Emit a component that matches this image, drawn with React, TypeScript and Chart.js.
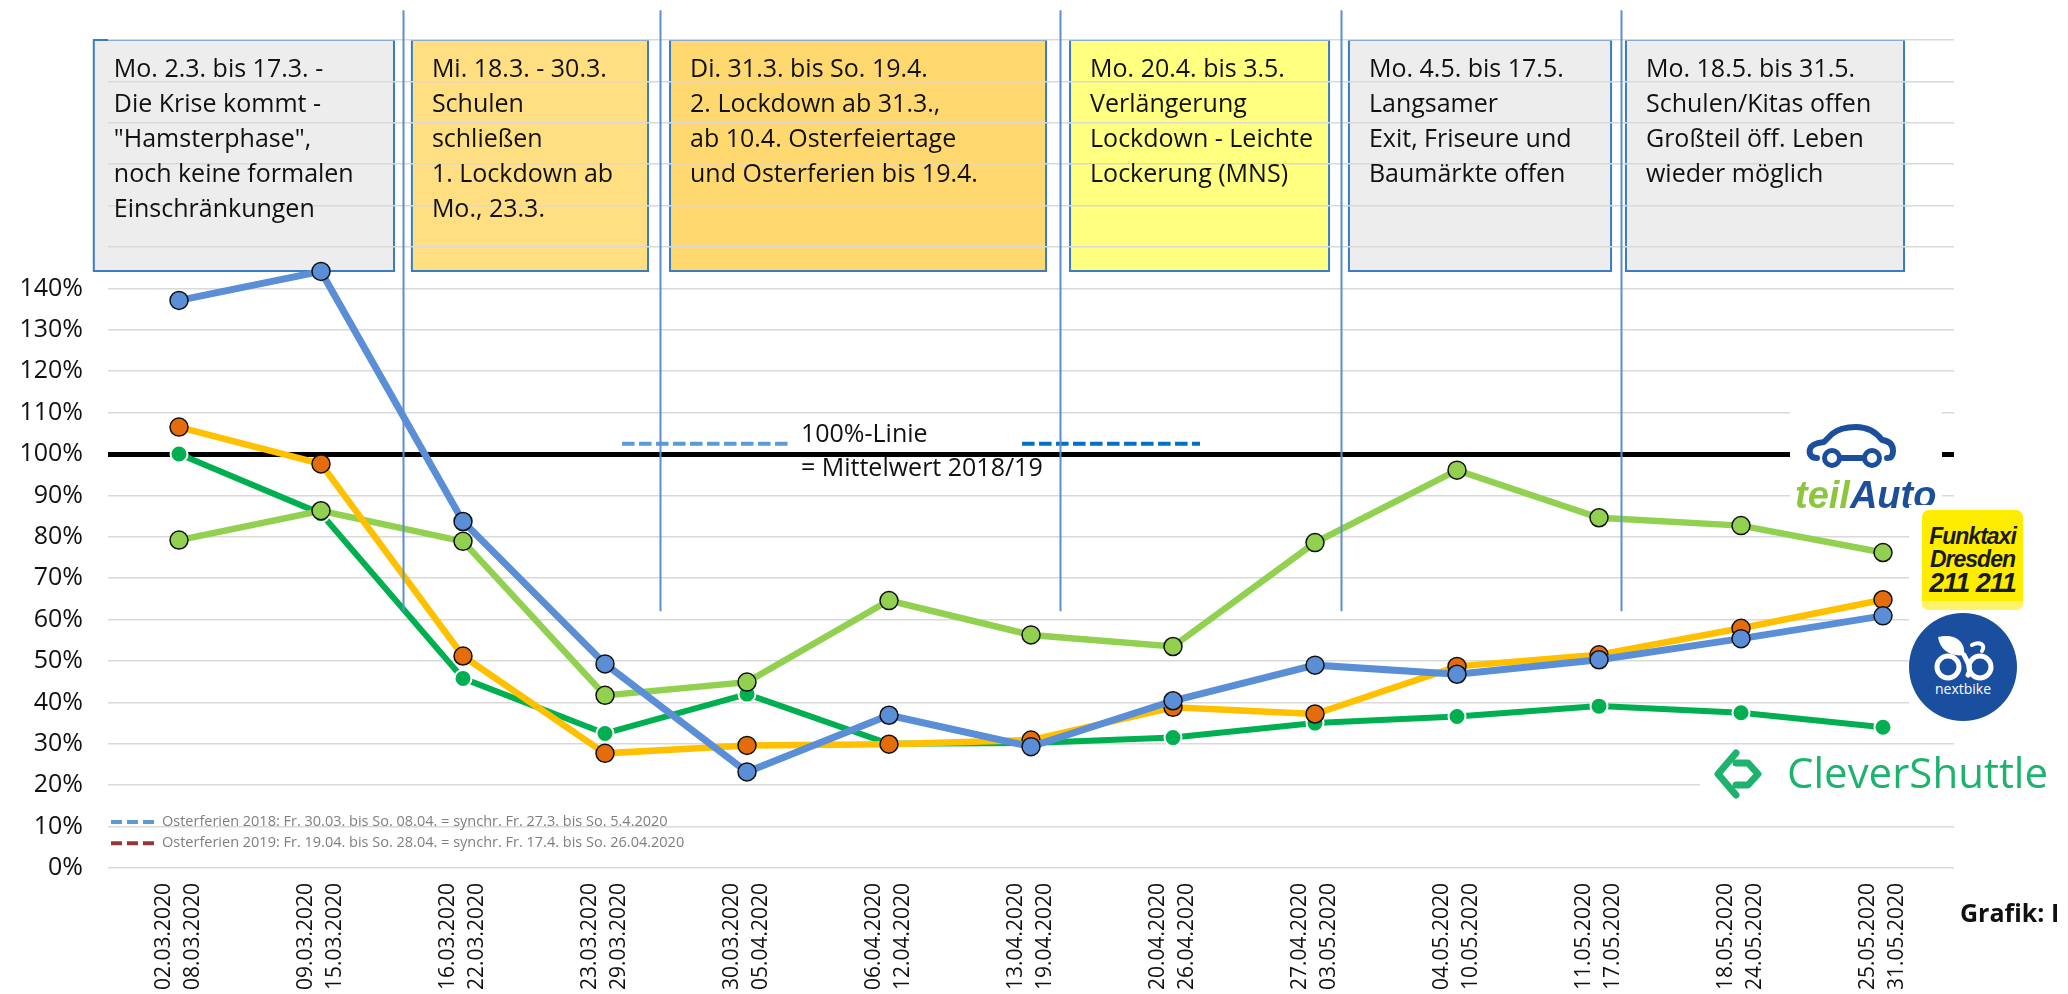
import React, { useEffect, useRef } from "react";
import { Chart, registerables } from "chart.js";
Chart.register(...registerables);

// ---------- data ----------
const weekStarts = ["02.03.2020", "09.03.2020", "16.03.2020", "23.03.2020", "30.03.2020", "06.04.2020", "13.04.2020", "20.04.2020", "27.04.2020", "04.05.2020", "11.05.2020", "18.05.2020", "25.05.2020"];
const weekEnds = ["08.03.2020", "15.03.2020", "22.03.2020", "29.03.2020", "05.04.2020", "12.04.2020", "19.04.2020", "26.04.2020", "03.05.2020", "10.05.2020", "17.05.2020", "24.05.2020", "31.05.2020"];

const nextbike = [137.1, 144.1, 83.7, 49.3, 23.2, 36.9, 29.3, 40.4, 49.0, 46.8, 50.3, 55.4, 60.9];
const funktaxi = [106.5, 97.6, 51.2, 27.7, 29.6, 29.9, 30.9, 38.8, 37.2, 48.7, 51.5, 57.9, 64.8];
const teilAuto = [79.2, 86.3, 78.9, 41.7, 44.9, 64.6, 56.3, 53.5, 78.6, 96.1, 84.6, 82.7, 76.2];
const cleverShuttle = [100, 85.6, 45.8, 32.5, 42.0, 30.0, 30.2, 31.5, 35.0, 36.6, 39.1, 37.5, 34.0];

const yMax = 200;
const yLabelMax = 140;

// annotation boxes (phases), in category-index units
const phaseFrom = [-0.6, 1.64, 3.458, 6.275, 8.239, 10.19];
const phaseTo = [1.514, 3.303, 6.106, 8.099, 10.085, 12.148];
const phaseFills = ["#EDEDED", "#FFDF82", "#FFD970", "#FFFF80", "#EDEDED", "#EDEDED"];
const phaseTexts = [
  ["Mo. 2.3. bis 17.3. -", "Die Krise kommt -", "\"Hamsterphase\",", "noch keine formalen", "Einschränkungen"],
  ["Mi. 18.3. - 30.3.", "Schulen", "schließen", "1. Lockdown ab", "Mo., 23.3."],
  ["Di. 31.3. bis So. 19.4.", "2. Lockdown ab 31.3.,", "ab 10.4. Osterfeiertage", "und Osterferien bis 19.4."],
  ["Mo. 20.4. bis 3.5.", "Verlängerung", "Lockdown - Leichte", "Lockerung (MNS)"],
  ["Mo. 4.5. bis 17.5.", "Langsamer", "Exit, Friseure und", "Baumärkte offen"],
  ["Mo. 18.5. bis 31.5.", "Schulen/Kitas offen", "Großteil öff. Leben", "wieder möglich"],
];
const dividerAt = [1.577, 3.387, 6.204, 8.183, 10.155];

const legendTexts = [
  "Osterferien 2018: Fr. 30.03. bis So. 08.04. = synchr. Fr. 27.3. bis So. 5.4.2020",
  "Osterferien 2019: Fr. 19.04. bis So. 28.04. = synchr. Fr. 17.4. bis So. 26.04.2020",
];
const legendColors = ["#5B9BD5", "#953735"];
const lineNoteTexts = ["100%-Linie", "= Mittelwert 2018/19"];

const annotationPlugin = {
  id: "phaseAnnotations",
  beforeDraw(chart: any) {
    const { ctx, scales } = chart;
    const x = scales.x, y = scales.y;
    ctx.save();
    const top = y.getPixelForValue(200);
    const bottom = y.getPixelForValue(144.2);
    phaseFrom.forEach((f, i) => {
      const l = x.getPixelForValue(f);
      const r = x.getPixelForValue(phaseTo[i]);
      ctx.fillStyle = phaseFills[i];
      ctx.fillRect(l, top, r - l, bottom - top);
      ctx.strokeStyle = "#3A7CC4";
      ctx.lineWidth = 2;
      ctx.strokeRect(l, top, r - l, bottom - top);
    });
    ctx.restore();
  },
  beforeDatasetsDraw(chart: any) {
    const { ctx, scales } = chart;
    const x = scales.x, y = scales.y;
    ctx.save();
    const top = y.getPixelForValue(200);
    ctx.fillStyle = "#111";
    ctx.font = '25px "Open Sans"';
    ctx.textBaseline = "middle";
    ctx.textAlign = "left";
    phaseFrom.forEach((f, i) => {
      const l = x.getPixelForValue(f);
      phaseTexts[i].forEach((t, k) => {
        ctx.fillText(t, l + 20, top + 30 + k * 35);
      });
    });
    // dashed note lines at 100% line
    ctx.lineWidth = 4;
    ctx.setLineDash([12.5, 4.5]);
    ctx.strokeStyle = "#5B9BD5";
    ctx.beginPath();
    ctx.moveTo(x.getPixelForValue(3.12), y.getPixelForValue(102.5));
    ctx.lineTo(x.getPixelForValue(4.289), y.getPixelForValue(102.5));
    ctx.stroke();
    ctx.strokeStyle = "#0070C0";
    ctx.beginPath();
    ctx.moveTo(x.getPixelForValue(5.937), y.getPixelForValue(102.5));
    ctx.lineTo(x.getPixelForValue(7.19), y.getPixelForValue(102.5));
    ctx.stroke();
    ctx.setLineDash([]);
    ctx.fillStyle = "#111";
    ctx.font = '25px "Open Sans"';
    ctx.fillText(lineNoteTexts[0], x.getPixelForValue(4.38), y.getPixelForValue(104.7));
    ctx.fillText(lineNoteTexts[1], x.getPixelForValue(4.38), y.getPixelForValue(96.3));
    // legend notes bottom-left
    const legY = [11.1, 6.0];
    legendTexts.forEach((t, i) => {
      const yy = y.getPixelForValue(legY[i]);
      ctx.strokeStyle = legendColors[i];
      ctx.lineWidth = 4;
      ctx.setLineDash([11, 5]);
      ctx.beginPath();
      ctx.moveTo(x.getPixelForValue(-0.479), yy);
      ctx.lineTo(x.getPixelForValue(-0.17), yy);
      ctx.stroke();
      ctx.setLineDash([]);
      ctx.fillStyle = "#7F7F7F";
      ctx.font = '14.5px "Open Sans"';
      ctx.fillText(t, x.getPixelForValue(-0.12), yy);
    });
    ctx.restore();
  },
  afterDatasetsDraw(chart: any) {
    const { ctx, scales } = chart;
    const x = scales.x, y = scales.y;
    ctx.save();
    ctx.strokeStyle = "#5B8FD0";
    ctx.lineWidth = 2;
    dividerAt.forEach((d) => {
      const px = Math.round(x.getPixelForValue(d)) + 0.5;
      ctx.beginPath();
      ctx.moveTo(px, y.getPixelForValue(207.2));
      ctx.lineTo(px, y.getPixelForValue(62));
      ctx.stroke();
    });
    ctx.restore();
  },
};

function CarIcon() {
  return (
    <svg width={92} height={46} viewBox="0 0 92 46" style={{ position: "absolute", left: 15, top: 12 }}>
      <path d="M12 34 C5 34 4 29 5 25 C6 21 11 19 19 18 L27 10 C33 5 41 3 51 3 C63 3 71 8 77 16 C85 17 88 21 88 27 C88 32 86 34 82 34" fill="none" stroke="#1B4F9C" strokeWidth={6} strokeLinecap="round" strokeLinejoin="round" />
      <path d="M36 34 L58 34" stroke="#1B4F9C" strokeWidth={6} strokeLinecap="round" />
      <circle cx={27} cy={34} r={7.5} fill="#fff" stroke="#1B4F9C" strokeWidth={5} />
      <circle cx={67} cy={34} r={7.5} fill="#fff" stroke="#1B4F9C" strokeWidth={5} />
    </svg>
  );
}

function BikeIcon() {
  return (
    <svg width={70} height={48} viewBox="0 0 70 48" style={{ position: "absolute", left: 19, top: 20 }}>
      <path d="M10 4 C26 0 38 8 36 22 C24 24 12 18 10 4 Z" fill="#fff" />
      <path d="M36 22 C40 30 44 36 40 42" fill="none" stroke="#fff" strokeWidth={5} strokeLinecap="round" />
      <circle cx={20} cy={34} r={11} fill="none" stroke="#fff" strokeWidth={5} />
      <circle cx={52} cy={34} r={11} fill="none" stroke="#fff" strokeWidth={5} />
      <path d="M44 12 C52 8 58 12 54 18" fill="none" stroke="#fff" strokeWidth={4} strokeLinecap="round" />
    </svg>
  );
}

function ShuttleIcon() {
  return (
    <svg width={56} height={52} viewBox="0 0 56 52" style={{ position: "absolute", left: 12, top: 3 }}>
      <path d="M24 5 L6 26 L24 47" fill="none" stroke="#1DB36E" strokeWidth={7} strokeLinecap="round" strokeLinejoin="round" />
      <path d="M24 15 L36 15 L46 26 L36 37 L24 37" fill="none" stroke="#1DB36E" strokeWidth={7} strokeLinecap="round" strokeLinejoin="round" />
    </svg>
  );
}

export default function App() {
  const ref = useRef<HTMLCanvasElement>(null);

  useEffect(() => {
    if (!ref.current) return;
    const labels = weekStarts.map((s, i) => [s, weekEnds[i]]);
    const chart = new Chart(ref.current, {
      type: "line",
      data: {
        labels,
        datasets: [
          {
            label: "nextbike",
            data: nextbike,
            borderColor: "#5A8ED6",
            backgroundColor: "#5A8ED6",
            borderWidth: 7,
            pointRadius: 9,
            pointBackgroundColor: "#5A8ED6",
            pointBorderColor: "#111",
            pointBorderWidth: 1.5,
            tension: 0,
            clip: false as any,
          },
          {
            label: "Funktaxi",
            data: funktaxi,
            borderColor: "#FFC000",
            backgroundColor: "#FFC000",
            borderWidth: 6.5,
            pointRadius: 9,
            pointBackgroundColor: "#E46C0A",
            pointBorderColor: "#111",
            pointBorderWidth: 1.5,
            tension: 0,
            clip: false as any,
          },
          {
            label: "teilAuto",
            data: teilAuto,
            borderColor: "#92D050",
            backgroundColor: "#92D050",
            borderWidth: 6.5,
            pointRadius: 9,
            pointBackgroundColor: "#92D050",
            pointBorderColor: "#111",
            pointBorderWidth: 1.5,
            tension: 0,
            clip: false as any,
          },
          {
            label: "CleverShuttle",
            data: cleverShuttle,
            borderColor: "#00B050",
            backgroundColor: "#00B050",
            borderWidth: 6,
            pointRadius: 8.5,
            pointBackgroundColor: "#00B050",
            pointBorderColor: "#FFFFFF",
            pointBorderWidth: 2,
            tension: 0,
            clip: false as any,
          },
        ],
      },
      options: {
        responsive: false,
        devicePixelRatio: 1,
        animation: false,
        events: [],
        layout: { padding: { left: 0, right: 114, top: 37, bottom: 0 } },
        plugins: { legend: { display: false }, tooltip: { enabled: false } },
        scales: {
          x: {
            type: "category",
            offset: true,
            grid: { display: false, drawTicks: false },
            border: { display: false },
            ticks: {
              autoSkip: false,
              maxRotation: 90,
              minRotation: 90,
              padding: 15,
              labelOffset: -14.5,
              color: "#111",
              font: { family: "Open Sans", size: 21, lineHeight: 1.381 },
            },
            afterFit: (s: any) => {
              s.height = 126;
            },
          },
          y: {
            min: 0,
            max: yMax,
            grid: {
              drawTicks: false,
              color: (c: any) => (c.tick && c.tick.value === 100 ? "#000000" : "#D9D9D9"),
              lineWidth: (c: any) => (c.tick && c.tick.value === 100 ? 5 : 1.5),
            },
            border: { display: false },
            ticks: {
              stepSize: 10,
              padding: 25,
              color: "#111",
              font: { family: "Open Sans", size: 25 },
              callback: (v: any) => (Number(v) <= yLabelMax ? v + "%" : ""),
            },
            afterFit: (s: any) => {
              s.width = 108;
            },
          },
        },
      },
      plugins: [annotationPlugin],
    });
    return () => chart.destroy();
  }, []);

  return (
    <div style={{ position: "fixed", left: 0, top: 0, width: 2068, height: 994, overflow: "hidden", background: "#fff" }}>
      <canvas ref={ref} width={2068} height={994} style={{ position: "absolute", left: 0, top: 0, width: 2068, height: 994 }} />
      {/* teilAuto logo */}
      <div style={{ position: "absolute", left: 1790, top: 412, width: 152, height: 102, background: "#fff" }}>
        <CarIcon />
        <div style={{ position: "absolute", left: 5, top: 63, lineHeight: "40px", fontFamily: "Liberation Sans", fontWeight: 700, fontStyle: "italic", fontSize: 38, whiteSpace: "nowrap" }}>
          <span style={{ color: "#8CC63E" }}>teil</span>
          <span style={{ color: "#1D4E9A" }}>Auto</span>
        </div>
      </div>
      {/* Funktaxi + nextbike background */}
      <div style={{ position: "absolute", left: 1909, top: 505, width: 130, height: 220, background: "#fff" }} />
      <div style={{ position: "absolute", left: 1922, top: 510, width: 101, height: 100, background: "#FFED00", borderRadius: 7, overflow: "hidden", textAlign: "center", fontFamily: "Liberation Sans", fontWeight: 700, fontStyle: "italic", color: "#1a1a1a" }}>
        <div style={{ position: "absolute", left: 0, right: 0, bottom: 0, height: 9, background: "#FFF36A" }} />
        <div style={{ position: "absolute", left: 0, right: 0, top: 14, fontSize: 23, lineHeight: "24px", letterSpacing: -1 }}>Funktaxi</div>
        <div style={{ position: "absolute", left: 0, right: 0, top: 37, fontSize: 23, lineHeight: "24px", letterSpacing: -1 }}>Dresden</div>
        <div style={{ position: "absolute", left: 0, right: 0, top: 59, fontSize: 27, lineHeight: "28px", letterSpacing: -1 }}>211 211</div>
      </div>
      {/* nextbike logo */}
      <div style={{ position: "absolute", left: 1909, top: 613, width: 108, height: 108, borderRadius: "50%", background: "#1A4E9E" }}>
        <BikeIcon />
        <div style={{ position: "absolute", left: 0, right: 0, top: 68, textAlign: "center", color: "#fff", fontFamily: "Open Sans", fontSize: 14, lineHeight: "16px" }}>nextbike</div>
      </div>
      {/* CleverShuttle logo */}
      <div style={{ position: "absolute", left: 1700, top: 745, width: 368, height: 58, background: "#fff" }}>
        <ShuttleIcon />
        <div style={{ position: "absolute", left: 87, top: 2, fontFamily: "Open Sans", fontSize: 42, lineHeight: "50px", color: "#1DB36E", whiteSpace: "nowrap" }}>CleverShuttle</div>
      </div>
      {/* credit */}
      <div style={{ position: "absolute", left: 1960, top: 897, fontFamily: "Open Sans", fontWeight: 700, fontSize: 25, lineHeight: "30px", color: "#111", whiteSpace: "nowrap" }}>Grafik: I</div>
    </div>
  );
}
